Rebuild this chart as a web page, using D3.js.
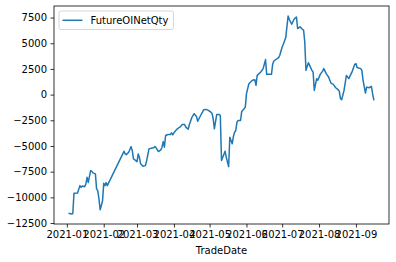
<!DOCTYPE html>
<html>
<head>
<meta charset="utf-8">
<script src="https://cdn.jsdelivr.net/npm/d3@7"></script>
<style>
  body { margin: 0; background: #fff; }
  text { font-family: "DejaVu Sans", sans-serif; }
</style>
</head>
<body>
<div id="chart"></div>
<script>
// data
const tradeDates = [
  "2021-01-03","2021-01-05","2021-01-06","2021-01-07","2021-01-10","2021-01-12","2021-01-13","2021-01-14",
  "2021-01-16","2021-01-17","2021-01-18","2021-01-19","2021-01-21","2021-01-22","2021-01-23","2021-01-25",
  "2021-01-26","2021-01-27","2021-01-28","2021-01-29","2021-01-30","2021-01-31","2021-02-01","2021-02-02",
  "2021-02-03","2021-02-04","2021-02-17","2021-02-18","2021-02-19","2021-02-20","2021-02-22","2021-02-24",
  "2021-02-25","2021-02-26","2021-02-28","2021-03-01","2021-03-02","2021-03-03","2021-03-04","2021-03-06",
  "2021-03-08","2021-03-09","2021-03-11","2021-03-13","2021-03-15","2021-03-16","2021-03-17","2021-03-19",
  "2021-03-21","2021-03-22","2021-03-23","2021-03-24","2021-03-25","2021-03-27","2021-03-29","2021-03-30",
  "2021-03-31","2021-04-01","2021-04-03","2021-04-05","2021-04-06","2021-04-08","2021-04-10","2021-04-11",
  "2021-04-13","2021-04-14","2021-04-16","2021-04-18","2021-04-20","2021-04-21","2021-04-23","2021-04-25",
  "2021-04-26","2021-04-28","2021-04-30","2021-05-02","2021-05-03","2021-05-04","2021-05-05","2021-05-07",
  "2021-05-09","2021-05-10","2021-05-11","2021-05-14","2021-05-15","2021-05-17","2021-05-18","2021-05-20",
  "2021-05-21","2021-05-22","2021-05-23","2021-05-24","2021-05-25","2021-05-27","2021-05-28","2021-05-30",
  "2021-05-31","2021-06-01","2021-06-03","2021-06-06","2021-06-08","2021-06-09","2021-06-10","2021-06-13",
  "2021-06-15","2021-06-17","2021-06-18","2021-06-22","2021-06-23","2021-06-24","2021-06-28","2021-06-29",
  "2021-07-01","2021-07-02","2021-07-04","2021-07-06","2021-07-07","2021-07-09","2021-07-11","2021-07-13",
  "2021-07-14","2021-07-16","2021-07-18","2021-07-19","2021-07-20","2021-07-21","2021-07-23","2021-07-26",
  "2021-07-27","2021-07-28","2021-07-30","2021-07-31","2021-08-02","2021-08-04","2021-08-05","2021-08-07",
  "2021-08-09","2021-08-11","2021-08-13","2021-08-15","2021-08-17","2021-08-18","2021-08-19","2021-08-20",
  "2021-08-22","2021-08-24","2021-08-26","2021-08-29","2021-08-31","2021-09-01","2021-09-02","2021-09-05",
  "2021-09-06","2021-09-07","2021-09-09","2021-09-10","2021-09-12","2021-09-14","2021-09-15","2021-09-16"
]
const futureOINetQty = [
  -11570,-11630,-11570,-9610,-9570,-8860,-9030,-8890,
  -8960,-8700,-8050,-8550,-7400,-7470,-7620,-7720,
  -9180,-9350,-10160,-11200,-10800,-10330,-8640,-8860,
  -8570,-8860,-5770,-5510,-5770,-5840,-5610,-5060,
  -5450,-6260,-6420,-6520,-5770,-6100,-6740,-6980,
  -6910,-6490,-5280,-5220,-5180,-5060,-5180,-5540,
  -5380,-5120,-4570,-5120,-3980,-3880,-3880,-3720,
  -3910,-3720,-3430,-3230,-3170,-2910,-2910,-3170,
  -3370,-2910,-2250,-1860,-2130,-2590,-2130,-1710,
  -1470,-1440,-1540,-1710,-1810,-2350,-3330,-1930,
  -1930,-2030,-6420,-5510,-6100,-7010,-4150,-4790,
  -4080,-3660,-3490,-2680,-2520,-2520,-1640,-1380,
  -1220,90,1060,1390,1450,900,1870,2200,
  2530,3410,1970,1970,2950,3270,3600,3830,
  4640,4900,5550,7660,7310,6850,7340,7560,
  6430,6590,6360,6270,5120,2360,3110,2360,
  2200,410,1550,1390,1970,2290,2530,2040,
  1710,1120,1000,670,480,340,-400,-500,
  410,1870,1550,2290,2950,3020,2630,2530,
  2360,1390,150,730,670,800,90,-500
]
const yTicks = [-12500, -10000, -7500, -5000, -2500, 0, 2500, 5000, 7500]
const seriesName = "FutureOINetQty"
const xTitle = "TradeDate"

const width = 396
const height = 262
const margin = { top: 6, right: 7, bottom: 38, left: 54 }
const lineColor = "#1f77b4"

const parse = d3.timeParse("%Y-%m-%d")
const data = tradeDates.map((d, i) => ({ date: parse(d), value: futureOINetQty[i] }))

const svg = d3.select("#chart")
    .append("svg")
    .attr("width", width)
    .attr("height", height)

const plotW = width - margin.left - margin.right
const plotH = height - margin.top - margin.bottom

// matplotlib style 5% margins
const xExt = d3.extent(data, d => d.date)
const xPad = (xExt[1] - xExt[0]) * 0.05
const yExt = d3.extent(data, d => d.value)
const yPad = (yExt[1] - yExt[0]) * 0.05

const x = d3.scaleTime()
    .domain([new Date(+xExt[0] - xPad), new Date(+xExt[1] + xPad)])
    .range([margin.left, margin.left + plotW])
const y = d3.scaleLinear()
    .domain([yExt[0] - yPad, yExt[1] + yPad])
    .range([margin.top + plotH, margin.top])

const fmtNum = v => v < 0 ? "\u2212" + Math.abs(v) : String(v)

// axes
const xAxis = svg.append("g")
    .attr("transform", `translate(0,${margin.top + plotH})`)
    .call(d3.axisBottom(x)
        .ticks(d3.timeMonth.every(1))
        .tickFormat(d3.timeFormat("%Y-%m"))
        .tickSize(3.5)
        .tickPadding(3.5))
const yAxis = svg.append("g")
    .attr("transform", `translate(${margin.left},0)`)
    .call(d3.axisLeft(y)
        .tickValues(yTicks)
        .tickFormat(fmtNum)
        .tickSize(3.5)
        .tickPadding(3.5))

;[xAxis, yAxis].forEach(g => {
  g.select(".domain").remove()
  g.selectAll(".tick line").attr("stroke", "#000").attr("stroke-width", 0.8)
  g.selectAll(".tick text")
      .attr("fill", "#000")
      .style("font-size", "10px")
      .style("font-family", "DejaVu Sans")
})

// the line
const line = d3.line()
    .x(d => x(d.date))
    .y(d => y(d.value))

svg.append("path")
    .datum(data)
    .attr("d", line)
    .attr("fill", "none")
    .attr("stroke", lineColor)
    .attr("stroke-width", 1.5)
    .attr("stroke-linejoin", "round")
    .attr("stroke-linecap", "square")

// spines
svg.append("rect")
    .attr("x", margin.left)
    .attr("y", margin.top)
    .attr("width", plotW)
    .attr("height", plotH)
    .attr("fill", "none")
    .attr("stroke", "#000")
    .attr("stroke-width", 0.8)

// x title
svg.append("text")
    .attr("x", margin.left + plotW / 2)
    .attr("y", 253.5)
    .attr("text-anchor", "middle")
    .style("font-size", "10px")
    .text(xTitle)

// legend
const lg = svg.append("g").attr("transform", `translate(${margin.left + 5},${margin.top + 5})`)
const label = lg.append("text")
    .attr("x", 31.5)
    .attr("y", 13)
    .style("font-size", "10px")
    .text(seriesName)
const tw = label.node().getComputedTextLength()
lg.insert("rect", "text")
    .attr("x", 0)
    .attr("y", 0)
    .attr("width", 31.5 + tw + 5)
    .attr("height", 18.5)
    .attr("rx", 2)
    .attr("fill", "#fff")
    .attr("fill-opacity", 0.8)
    .attr("stroke", "#cccccc")
    .attr("stroke-width", 0.8)
lg.insert("line", "text")
    .attr("x1", 3.5)
    .attr("x2", 23.5)
    .attr("y1", 9.3)
    .attr("y2", 9.3)
    .attr("stroke", lineColor)
    .attr("stroke-width", 1.5)
</script>
</body>
</html>
